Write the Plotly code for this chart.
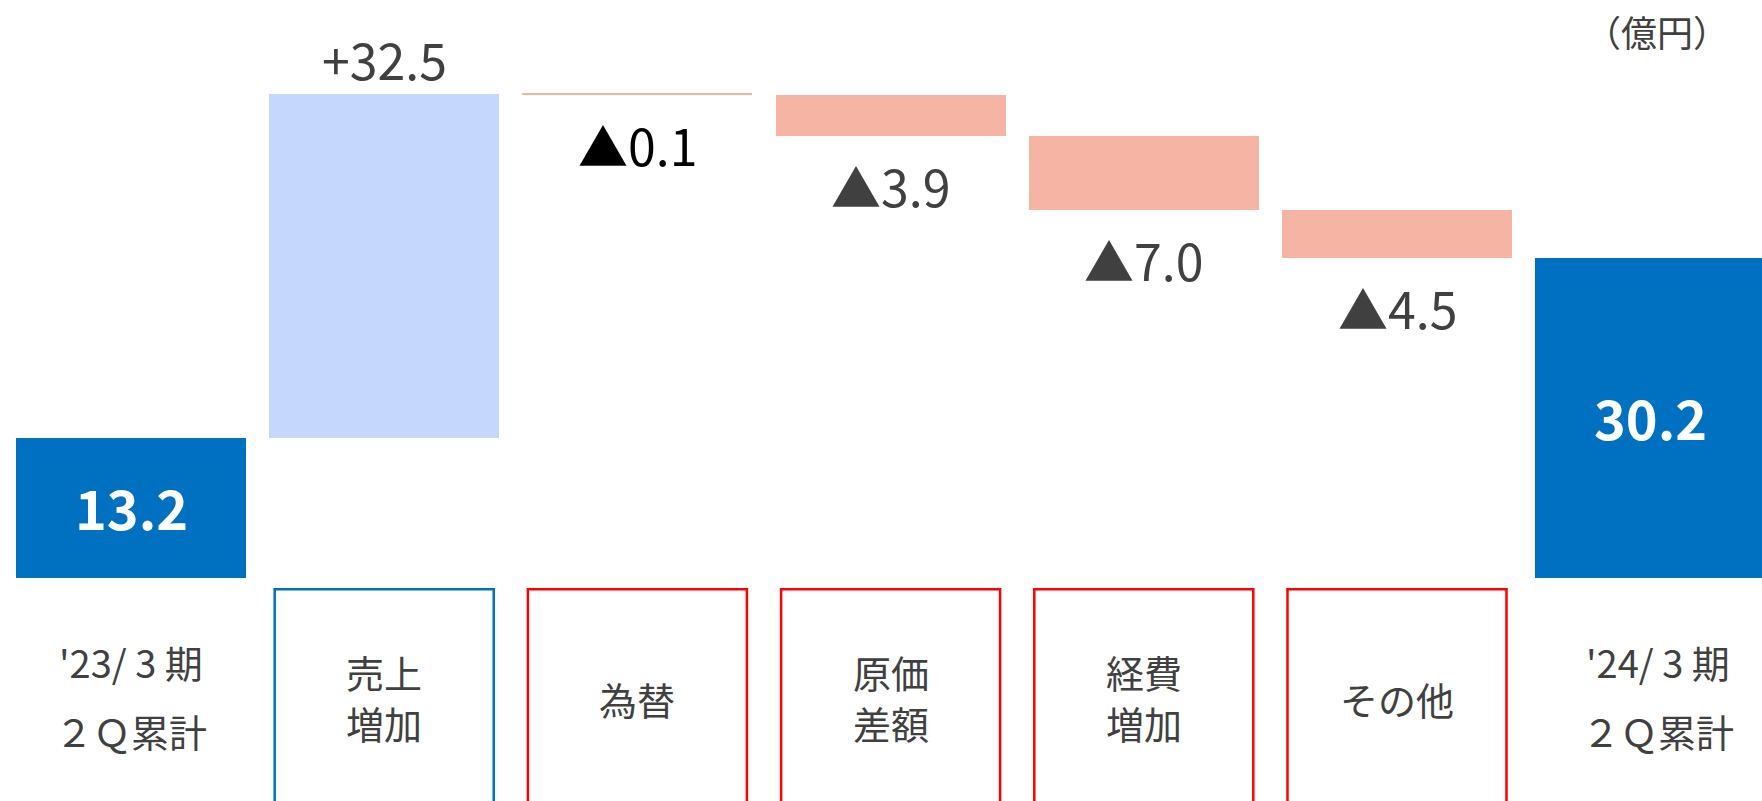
import plotly.graph_objects as go

# ---- data ----
category_lines = [
    ["'23/ 3 期", "２Ｑ累計"],
    ["売上", "増加"],
    ["為替"],
    ["原価", "差額"],
    ["経費", "増加"],
    ["その他"],
    ["'24/ 3 期", "２Ｑ累計"],
]
start_value = 13.2
changes = [32.5, -0.1, -3.9, -7.0, -4.5]
end_value = 30.2
value_labels = ["13.2", "+32.5", "▲0.1", "▲3.9", "▲7.0", "▲4.5", "30.2"]
unit_label = "（億円）"

# ---- styles ----
C_TOTAL = "#0070C0"
C_UP = "#C5D7FD"
C_DOWN = "#F6B4A4"
C_TEXT = "#404040"
FONT = "Noto Sans CJK JP"

W, H = 1762, 801
PX_PER_UNIT = 10.6
ZERO_PX = 578.2
PITCH = 253.2
X0_PX = 131.0

yr = [-(H - ZERO_PX) / PX_PER_UNIT, ZERO_PX / PX_PER_UNIT]
xr = [-X0_PX / PITCH, (W - X0_PX) / PITCH]

# compute bases / heights
bases, heights, colors = [0.0], [start_value], [C_TOTAL]
running = start_value
for d in changes:
    bases.append(running)
    heights.append(d)
    colors.append(C_UP if d > 0 else C_DOWN)
    running += d
bases.append(0.0)
heights.append(end_value)
colors.append(C_TOTAL)

n = len(heights)
xs = list(range(n))

fig = go.Figure()
fig.add_trace(go.Bar(
    x=xs, y=heights, base=bases, width=0.908,
    marker=dict(color=colors, line=dict(width=0)),
    hoverinfo="skip", showlegend=False,
))

annotations = []
for i in xs:
    b, h = bases[i], heights[i]
    if i == 0 or i == n - 1:
        annotations.append(dict(
            x=i, y=b + h / 2, xref="x", yref="y", text=value_labels[i],
            showarrow=False, yanchor="middle", yshift=2,
            font=dict(family=FONT, size=54, color="white", weight="bold"),
        ))
    elif h > 0:
        annotations.append(dict(
            x=i, y=b + h, xref="x", yref="y", text=value_labels[i],
            showarrow=False, yanchor="middle", yshift=36,
            font=dict(family=FONT, size=50, color=C_TEXT),
        ))
    else:
        col = "#000000" if i == 2 else C_TEXT
        annotations.append(dict(
            x=i, y=b + h, xref="x", yref="y", text=value_labels[i],
            showarrow=False, yanchor="middle", yshift=-49,
            font=dict(family=FONT, size=50, color=col),
        ))

# category labels
for i, lines in enumerate(category_lines):
    if i == 0 or i == n - 1:
        ys = [661, 730]
    elif len(lines) == 2:
        ys = [671, 722]
    else:
        ys = [698]
    for line, py in zip(lines, ys):
        annotations.append(dict(
            x=i, y=1 - py / H, xref="x", yref="paper", text=line,
            showarrow=False, yanchor="middle",
            xshift=8 if i == n - 1 else 0,
            font=dict(family=FONT, size=38, color=C_TEXT),
        ))

annotations.append(dict(
    x=1657 / W, y=1 - 31 / H, xref="paper", yref="paper", text=unit_label,
    showarrow=False, xanchor="center", yanchor="middle",
    font=dict(family=FONT, size=36, color=C_TEXT),
))

shapes = []
box_top = (ZERO_PX - 589.3) / PX_PER_UNIT
for i in range(1, n - 1):
    shapes.append(dict(
        type="rect", xref="x", yref="y",
        x0=i - 0.4325, x1=i + 0.4325, y0=yr[0] - 5, y1=box_top,
        line=dict(color=C_TOTAL if heights[i] > 0 else "#FF0000", width=2.5),
        fillcolor="rgba(0,0,0,0)",
    ))

fig.update_layout(
    width=W, height=H, autosize=False,
    margin=dict(l=0, r=0, t=0, b=0, pad=0),
    paper_bgcolor="white", plot_bgcolor="white",
    xaxis=dict(range=xr, visible=False, fixedrange=True),
    yaxis=dict(range=yr, visible=False, fixedrange=True),
    annotations=annotations, shapes=shapes,
    bargap=0,
)

fig.write_html("out.html", config={"displayModeBar": False},
               post_script="document.body.style.margin='0';document.body.style.overflow='hidden';")
